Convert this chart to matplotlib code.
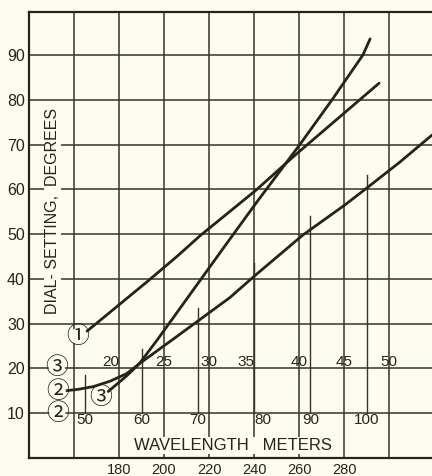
import matplotlib
matplotlib.use("Agg")
import matplotlib.pyplot as plt
import numpy as np

# ---------------- data ----------------
# Curve 1 : dial setting vs wavelength (main wavelength scale, meters)
c1_wl = [165.8, 192.4, 205.8, 216.0, 240.9, 258.2, 295.6]
c1_dial = [28.3, 39.3, 45.0, 49.6, 59.8, 67.6, 83.7]

# Curve 2
c2_wl = [156.8, 162.0, 168.6, 176.0, 183.4, 189.0, 202.7, 216.0, 229.3,
         240.4, 261.8, 280.4, 290.2, 304.9, 319.1]
c2_dial = [15.0, 15.3, 15.9, 17.1, 18.8, 21.0, 26.0, 30.9, 35.8,
           40.7, 49.8, 56.5, 60.3, 66.1, 72.1]

# Curve 3
c3_wl = [175.2, 183.4, 189.0, 196.8, 200.4, 216.0, 228.9, 240.9, 260.4,
         274.7, 288.4, 291.6]
c3_dial = [14.8, 18.3, 21.0, 26.2, 28.7, 39.6, 48.6, 56.9, 70.0,
           80.0, 90.0, 93.6]

# Axis scales
x_tick_values = [180, 200, 220, 240, 260, 280]
x_grid_values = [160, 180, 200, 220, 240, 260, 280, 300]
y_tick_values = [10, 20, 30, 40, 50, 60, 70, 80, 90]

# Auxiliary wavelength scales printed inside the chart
scale3_values = [20, 25, 30, 35, 40, 45, 50]     # coil (3) scale, at dial-20 row
scale2_values = [50, 60, 70, 80, 90, 100]        # coil (2) scale, at dial-10 row
scale3_align = ["right", "center", "center", "right", "center", "center", "center"]
scale2_align = ["center", "center", "center", "left", "center", "center"]


def scale3_to_main(v):
    return 4.0 * v + 100.0


def scale2_to_main(v):
    return 2.5 * v + 40.0


# ---------------- styling ----------------
BG = "#fcfcf1"
INK = "#24241c"
GRID = "#34342b"

plt.rcParams["font.family"] = ["Liberation Sans", "DejaVu Sans"]

fig = plt.figure(figsize=(4.32, 4.76), dpi=100, facecolor=BG)
W, H = 432.0, 476.0
ax = fig.add_axes([29 / W, 18.25 / H, (W - 29) / W, 445.75 / H])
ax.set_facecolor(BG)
ax.set_xlim(140, 140 + 403 / 2.25)
ax.set_ylim(0, 445.75 / 4.475)

# grid
for gx in x_grid_values:
    ax.axvline(gx, color=GRID, lw=1.1, zorder=1)
for gy in y_tick_values:
    ax.axhline(gy, color=GRID, lw=1.1, zorder=1)

# ticks / labels
ax.set_xticks(x_tick_values)
ax.set_xticklabels([str(v) for v in x_tick_values])
ax.set_yticks(y_tick_values)
ax.set_yticklabels([str(v) for v in y_tick_values])
ax.tick_params(axis="x", length=0, pad=4.0, labelsize=10.5, labelcolor=INK)
ax.tick_params(axis="y", length=0, pad=3.0, labelsize=11.5, labelcolor=INK)

for side in ("left", "bottom", "top"):
    ax.spines[side].set_color(INK)
    ax.spines[side].set_linewidth(1.6)
ax.spines["right"].set_visible(False)

# auxiliary scale-2 tick lines, rising from the dial-10 row up to curve 2
for v, ha in zip(scale2_values, scale2_align):
    xv = scale2_to_main(v)
    top = np.interp(xv, c2_wl, c2_dial) + 3.0
    ax.plot([xv, xv], [10, top], color=GRID, lw=1.0, zorder=1.5)
    ax.text(xv, 9.9, str(v), ha=ha, va="top", fontsize=11,
            color=INK, zorder=4)

for v, ha in zip(scale3_values, scale3_align):
    ax.text(scale3_to_main(v), 20.5, str(v), ha=ha, va="baseline",
            fontsize=11, color=INK, zorder=4)

# curves
for xs, ys in ((c1_wl, c1_dial), (c2_wl, c2_dial), (c3_wl, c3_dial)):
    ax.plot(xs, ys, color=INK, lw=2.0, solid_capstyle="round",
            solid_joinstyle="round", zorder=3)

# circled curve / scale markers
circ_kw = dict(ha="center", va="center", fontsize=16.5, color=INK,
               family=["Noto Sans CJK JP", "DejaVu Sans"], zorder=5,
               bbox=dict(boxstyle="circle,pad=-0.15", fc=BG, ec="none"))
ax.text(161.8, 27.2, "①", **circ_kw)
ax.text(152.6, 14.8, "②", **circ_kw)
ax.text(152.6, 9.9, "②", **circ_kw)
ax.text(152.4, 20.1, "③", **circ_kw)
ax.text(172.0, 13.4, "③", **circ_kw)

# axis titles written inside the chart
ax.text(152.4, 55.1, "DIAL- SETTING,  DEGREES", rotation=90,
        rotation_mode="anchor", ha="center", va="baseline", fontsize=11.5,
        color=INK, zorder=4,
        bbox=dict(boxstyle="square,pad=0.05", fc=BG, ec="none"))
ax.text(230.5, 1.7, "WAVELENGTH   METERS", ha="center", va="baseline",
        fontsize=12, color=INK, zorder=4,
        bbox=dict(boxstyle="square,pad=0.05", fc=BG, ec="none"))

fig.savefig("out.png", dpi=100, facecolor=BG)
